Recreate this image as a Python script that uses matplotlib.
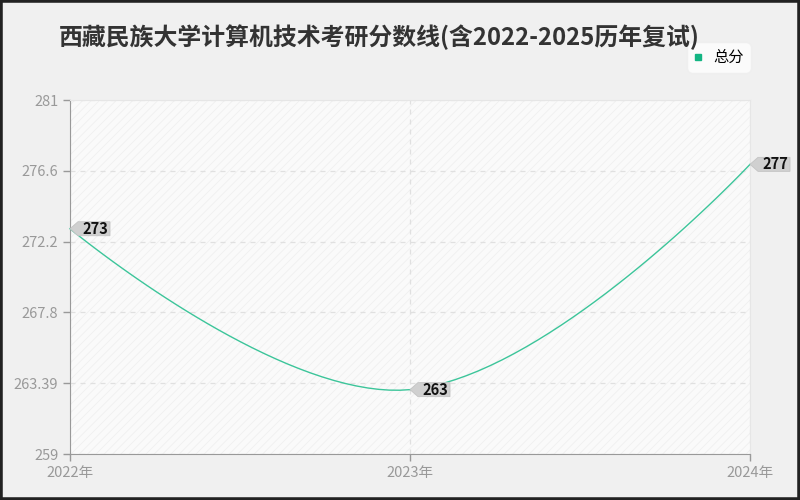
import numpy as np
import matplotlib.pyplot as plt
from matplotlib.patches import Rectangle, Polygon
from matplotlib.transforms import IdentityTransform

plt.rcParams['font.family'] = ['Noto Sans CJK SC', 'DejaVu Sans']
plt.rcParams['hatch.linewidth'] = 0.6

title = "西藏民族大学计算机技术考研分数线(含2022-2025历年复试)"
years = ["2022年", "2023年", "2024年"]
scores = [273, 263, 277]
series_name = "总分"
y_ticks = [259, 263.39, 267.8, 272.2, 276.6, 281]
y_min, y_max = 259, 281

LINE = "#3cc59a"
GRID = "#e0e0e0"
AXIS = "#999999"


def smooth_curve(xs, ys, sx, sy, smooth=0.4, n=40):
    # echarts style bezier smoothing, done in pixel space; end points are their own control points
    pts = np.column_stack([np.array(xs, float) * sx, np.array(ys, float) * sy])
    m = len(pts)
    cps = [(pts[0], pts[0])]
    for i in range(1, m - 1):
        v = pts[i + 1] - pts[i - 1]
        d0 = np.linalg.norm(pts[i] - pts[i - 1])
        d1 = np.linalg.norm(pts[i + 1] - pts[i])
        r = d1 / (d0 + d1)
        cps.append((pts[i] - v * smooth * (1 - r), pts[i] + v * smooth * r))
    cps.append((pts[-1], pts[-1]))
    out = []
    t = np.linspace(0, 1, n)[:, None]
    for i in range(m - 1):
        p0, p3 = pts[i], pts[i + 1]
        c1, c2 = cps[i][1], cps[i + 1][0]
        seg = (1 - t) ** 3 * p0 + 3 * (1 - t) ** 2 * t * c1 + 3 * (1 - t) * t ** 2 * c2 + t ** 3 * p3
        out.append(seg if i == 0 else seg[1:])
    out = np.vstack(out)
    return out[:, 0] / sx, out[:, 1] / sy


fig = plt.figure(figsize=(8, 5), dpi=100, facecolor="#f0f0f0")
ax = fig.add_axes([70 / 800, 46 / 500, 680 / 800, 354 / 500])
ax.set_facecolor("#fafafa")
ax.add_patch(Rectangle((0, 0), 1, 1, transform=ax.transAxes, facecolor="none",
                       edgecolor="#f0f0f0", hatch="////", lw=0, zorder=0))

xs = np.arange(len(years))
cx, cy = smooth_curve(xs, scores, 340, 354 / 22)
ax.plot(cx, cy, color=LINE, lw=1, zorder=3, clip_on=False)

ax.set_xlim(0, len(years) - 1)
ax.set_ylim(y_min, y_max)
ax.set_xticks(xs)
ax.set_xticklabels(years)
ax.set_yticks(y_ticks)
ax.set_yticklabels([f"{v:g}" for v in y_ticks])
ax.tick_params(colors=AXIS, labelcolor="#999999", labelsize=10.5, length=5, width=1)
ax.grid(True, color=GRID, ls=(0, (4, 4)), lw=0.9)
for side in ["left", "bottom"]:
    ax.spines[side].set_color(AXIS)
for side in ["top", "right"]:
    ax.spines[side].set_color("#e6e6e6")

# value labels: small grey tag with a pointed left side
shape = np.array([[0, 0], [8, 7], [40, 7], [40, -7], [8, -7]], float)
for x, v in zip(xs, scores):
    base = ax.transData.transform((x, v))
    poly = Polygon(base + shape, closed=True, transform=IdentityTransform(), fc="#d0d0d0",
                   ec="#c4c4c4", lw=0.6, zorder=5, clip_on=False)
    ax.add_artist(poly)
    ax.annotate(str(v), (x, v), xytext=(12, 0), textcoords="offset pixels",
                ha="left", va="center", fontsize=10.5, fontweight="bold", color="#111111",
                zorder=6, annotation_clip=False)

fig.text(0.074, 0.926, title, fontsize=17.2, fontweight="bold", color="#333333", va="center")

leg = ax.legend([plt.Line2D([], [], marker="s", color="#13b583", ls="none", ms=5)],
                [series_name], loc="upper right", bbox_to_anchor=(757 / 800, 464 / 500),
                bbox_transform=fig.transFigure, frameon=True, fontsize=11,
                handlelength=0.6, handletextpad=0.7, borderpad=0.35)
leg.get_frame().set_facecolor("white")
leg.get_frame().set_edgecolor("#eeeeee")
leg.get_frame().set_boxstyle("round,pad=0.1,rounding_size=0.4")

fig.patches.append(Rectangle((0, 0), 1, 1, transform=fig.transFigure, fill=False,
                             edgecolor="#222222", lw=4))

fig.savefig("out.png", dpi=100, facecolor=fig.get_facecolor())
